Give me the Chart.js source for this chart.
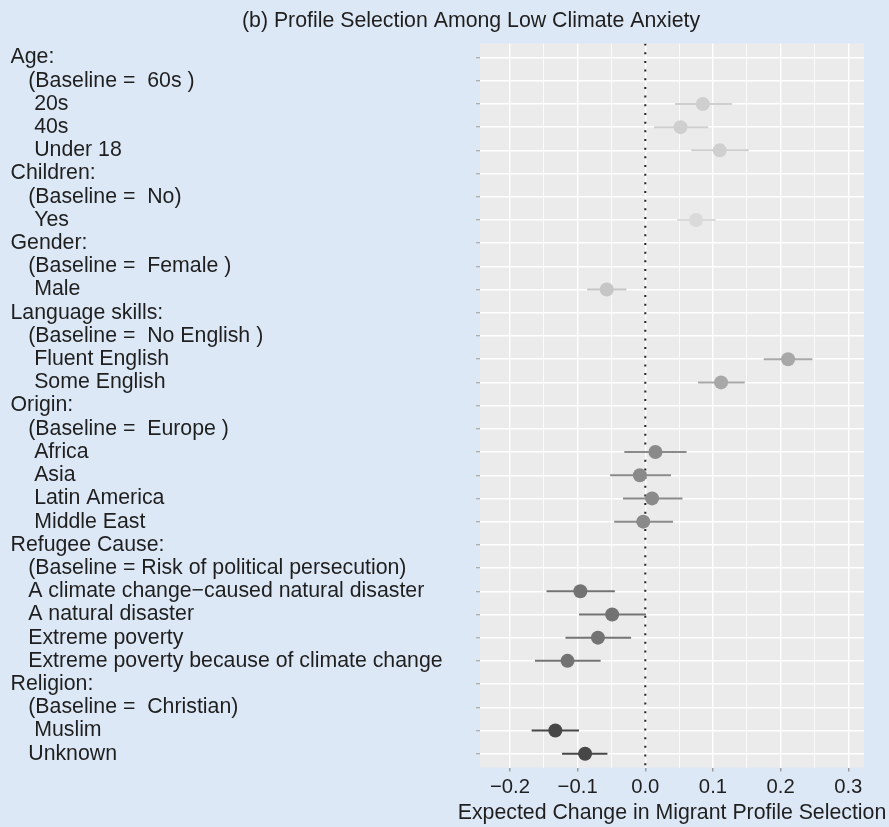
<!DOCTYPE html>
<html>
<head>
<meta charset="utf-8">
<script src="https://cdn.jsdelivr.net/npm/chart.js@4.4.1/dist/chart.umd.min.js"></script>
<style>
html,body{margin:0;padding:0;background:#dde8f6;}
#wrap{width:889px;height:827px;position:relative;}
</style>
</head>
<body>
<div id="wrap"><canvas id="c" width="889" height="827"></canvas></div>
<script>
// ---------- DATA ----------
const chartTitle = "(b) Profile Selection Among Low Climate Anxiety";
const xAxisTitle = "Expected Change in Migrant Profile Selection";

const rowLabels = [
  "Age:",
  "   (Baseline =  60s )",
  "    20s",
  "    40s",
  "    Under 18",
  "Children:",
  "   (Baseline =  No)",
  "    Yes",
  "Gender:",
  "   (Baseline =  Female )",
  "    Male",
  "Language skills:",
  "   (Baseline =  No English )",
  "    Fluent English",
  "    Some English",
  "Origin:",
  "   (Baseline =  Europe )",
  "    Africa",
  "    Asia",
  "    Latin America",
  "    Middle East",
  "Refugee Cause:",
  "   (Baseline = Risk of political persecution)",
  "   A climate change\u2212caused natural disaster",
  "   A natural disaster",
  "   Extreme poverty",
  "   Extreme poverty because of climate change",
  "Religion:",
  "   (Baseline =  Christian)",
  "    Muslim",
  "   Unknown"
];

const groupNames = ["Age", "Children", "Gender", "Language skills", "Origin", "Refugee Cause", "Religion"];

// one entry per estimated term
const termRows   = [2, 3, 4, 7, 10, 13, 14, 17, 18, 19, 20, 23, 24, 25, 26, 29, 30];
const termGroups = [0, 0, 0, 1, 2, 3, 3, 4, 4, 4, 4, 5, 5, 5, 5, 6, 6];
const estimates  = [0.085, 0.052, 0.110, 0.075, -0.057, 0.211, 0.112, 0.015, -0.008, 0.010, -0.003, -0.096, -0.049, -0.070, -0.115, -0.133, -0.089];
const lowerCI    = [0.044, 0.013, 0.068, 0.047, -0.086, 0.175, 0.078, -0.031, -0.052, -0.033, -0.046, -0.146, -0.098, -0.118, -0.163, -0.168, -0.123];
const upperCI    = [0.128, 0.093, 0.153, 0.104, -0.028, 0.247, 0.147, 0.061, 0.038, 0.055, 0.041, -0.045, 0.001, -0.021, -0.066, -0.098, -0.056];

const xMajorTicks = [-0.2, -0.1, 0.0, 0.1, 0.2, 0.3];
const xMinorTicks = [-0.15, -0.05, 0.05, 0.15, 0.25];
const referenceValue = 0;

// ---------- STYLE ----------
const groupColors = ["#cfcfcf", "#dadada", "#c6c6c6", "#a8a8a8", "#8a8a8a", "#737373", "#474747"];
const bgColor = "#dde8f6";
const panelColor = "#ebebeb";
const FONT = "'Liberation Sans', Arial, Helvetica, sans-serif";
const textColor = "#1f1f1f";

const xMin = -0.2443, xMax = 0.3232;
const yMin = -0.6, yMax = rowLabels.length - 1 + 0.6;

// ---------- DATASETS ----------
const datasets = [];
// reference line
datasets.push({
  type: 'line',
  data: [{x: referenceValue, y: yMin}, {x: referenceValue, y: yMax}],
  showLine: true,
  borderColor: '#222222',
  borderWidth: 2,
  borderDash: [2, 6.67],
  borderCapStyle: 'butt',
  pointRadius: 0,
  order: 3
});
// error bars
termRows.forEach((r, i) => {
  datasets.push({
    type: 'line',
    data: [{x: lowerCI[i], y: r}, {x: upperCI[i], y: r}],
    showLine: true,
    borderColor: groupColors[termGroups[i]],
    borderWidth: 2,
    pointRadius: 0,
    order: 2
  });
});
// points per group
groupNames.forEach((g, gi) => {
  const pts = [];
  termRows.forEach((r, i) => { if (termGroups[i] === gi) pts.push({x: estimates[i], y: r}); });
  datasets.push({
    type: 'scatter',
    label: g,
    data: pts,
    pointRadius: 7,
    pointHoverRadius: 7,
    pointBackgroundColor: groupColors[gi],
    pointBorderWidth: 0,
    order: 1
  });
});

const isMajor = (v) => xMajorTicks.some(m => Math.abs(m - v) < 1e-9);

const bgPlugin = {
  id: 'bg',
  beforeDraw(chart) {
    const {ctx, chartArea: a} = chart;
    ctx.save();
    ctx.fillStyle = bgColor;
    ctx.fillRect(0, 0, chart.width, chart.height);
    ctx.fillStyle = panelColor;
    ctx.fillRect(a.left, a.top, a.right - a.left, a.bottom - a.top);
    ctx.restore();
  },
  afterDraw(chart) {
    const {ctx, chartArea: a} = chart;
    ctx.save();
    ctx.font = "21.3px " + FONT;
    ctx.fillStyle = textColor;
    ctx.textAlign = 'center';
    ctx.textBaseline = 'middle';
    ctx.fillText(chartTitle, 471, 21);
    // x-axis title (centred on the panel, allowed to overflow it like the original)
    ctx.fillText(xAxisTitle, (a.left + a.right) / 2, 813);
    ctx.restore();
  }
};

new Chart(document.getElementById('c'), {
  type: 'scatter',
  data: { datasets },
  plugins: [bgPlugin],
  options: {
    responsive: false,
    animation: false,
    events: [],
    layout: { padding: { left: 10.5, top: 43.6, right: 25, bottom: 0 } },
    plugins: { legend: { display: false }, tooltip: { enabled: false }, title: { display: false } },
    scales: {
      x: {
        type: 'linear',
        min: xMin, max: xMax,
        afterBuildTicks: (s) => {
          s.ticks = xMajorTicks.concat(xMinorTicks).sort((a, b) => a - b).map(v => ({value: v}));
        },
        afterFit: (s) => { s.height = 827 - 767.6; },
        border: { display: false },
        grid: {
          color: '#ffffff',
          lineWidth: (c) => (c.tick && isMajor(c.tick.value)) ? 1.4 : 0.8,
          tickColor: (c) => (c.tick && isMajor(c.tick.value)) ? '#9a9a9a' : 'rgba(0,0,0,0)',
          tickLength: 4,
          tickWidth: 1.4
        },
        ticks: {
          autoSkip: false,
          maxRotation: 0,
          padding: 4,
          color: textColor,
          font: { family: FONT, size: 20.3 },
          callback: (v) => isMajor(v) ? ((v < -1e-9 ? '\u2212' : '') + Math.abs(v).toFixed(1)) : ''
        },
        title: { display: false }
      },
      y: {
        type: 'linear',
        reverse: true,
        min: yMin, max: yMax,
        afterBuildTicks: (s) => { s.ticks = rowLabels.map((_, i) => ({value: i})); },
        afterFit: (s) => { s.width = 480 - 10.5; },
        border: { display: false },
        grid: {
          color: '#ffffff',
          lineWidth: 1.4,
          tickColor: '#a8a8a8',
          tickLength: 4,
          tickWidth: 1.2
        },
        ticks: {
          autoSkip: false,
          crossAlign: 'far',
          color: textColor,
          font: { family: FONT, size: 21.3 },
          callback: (v) => rowLabels[v]
        }
      }
    }
  }
});
</script>
</body>
</html>
